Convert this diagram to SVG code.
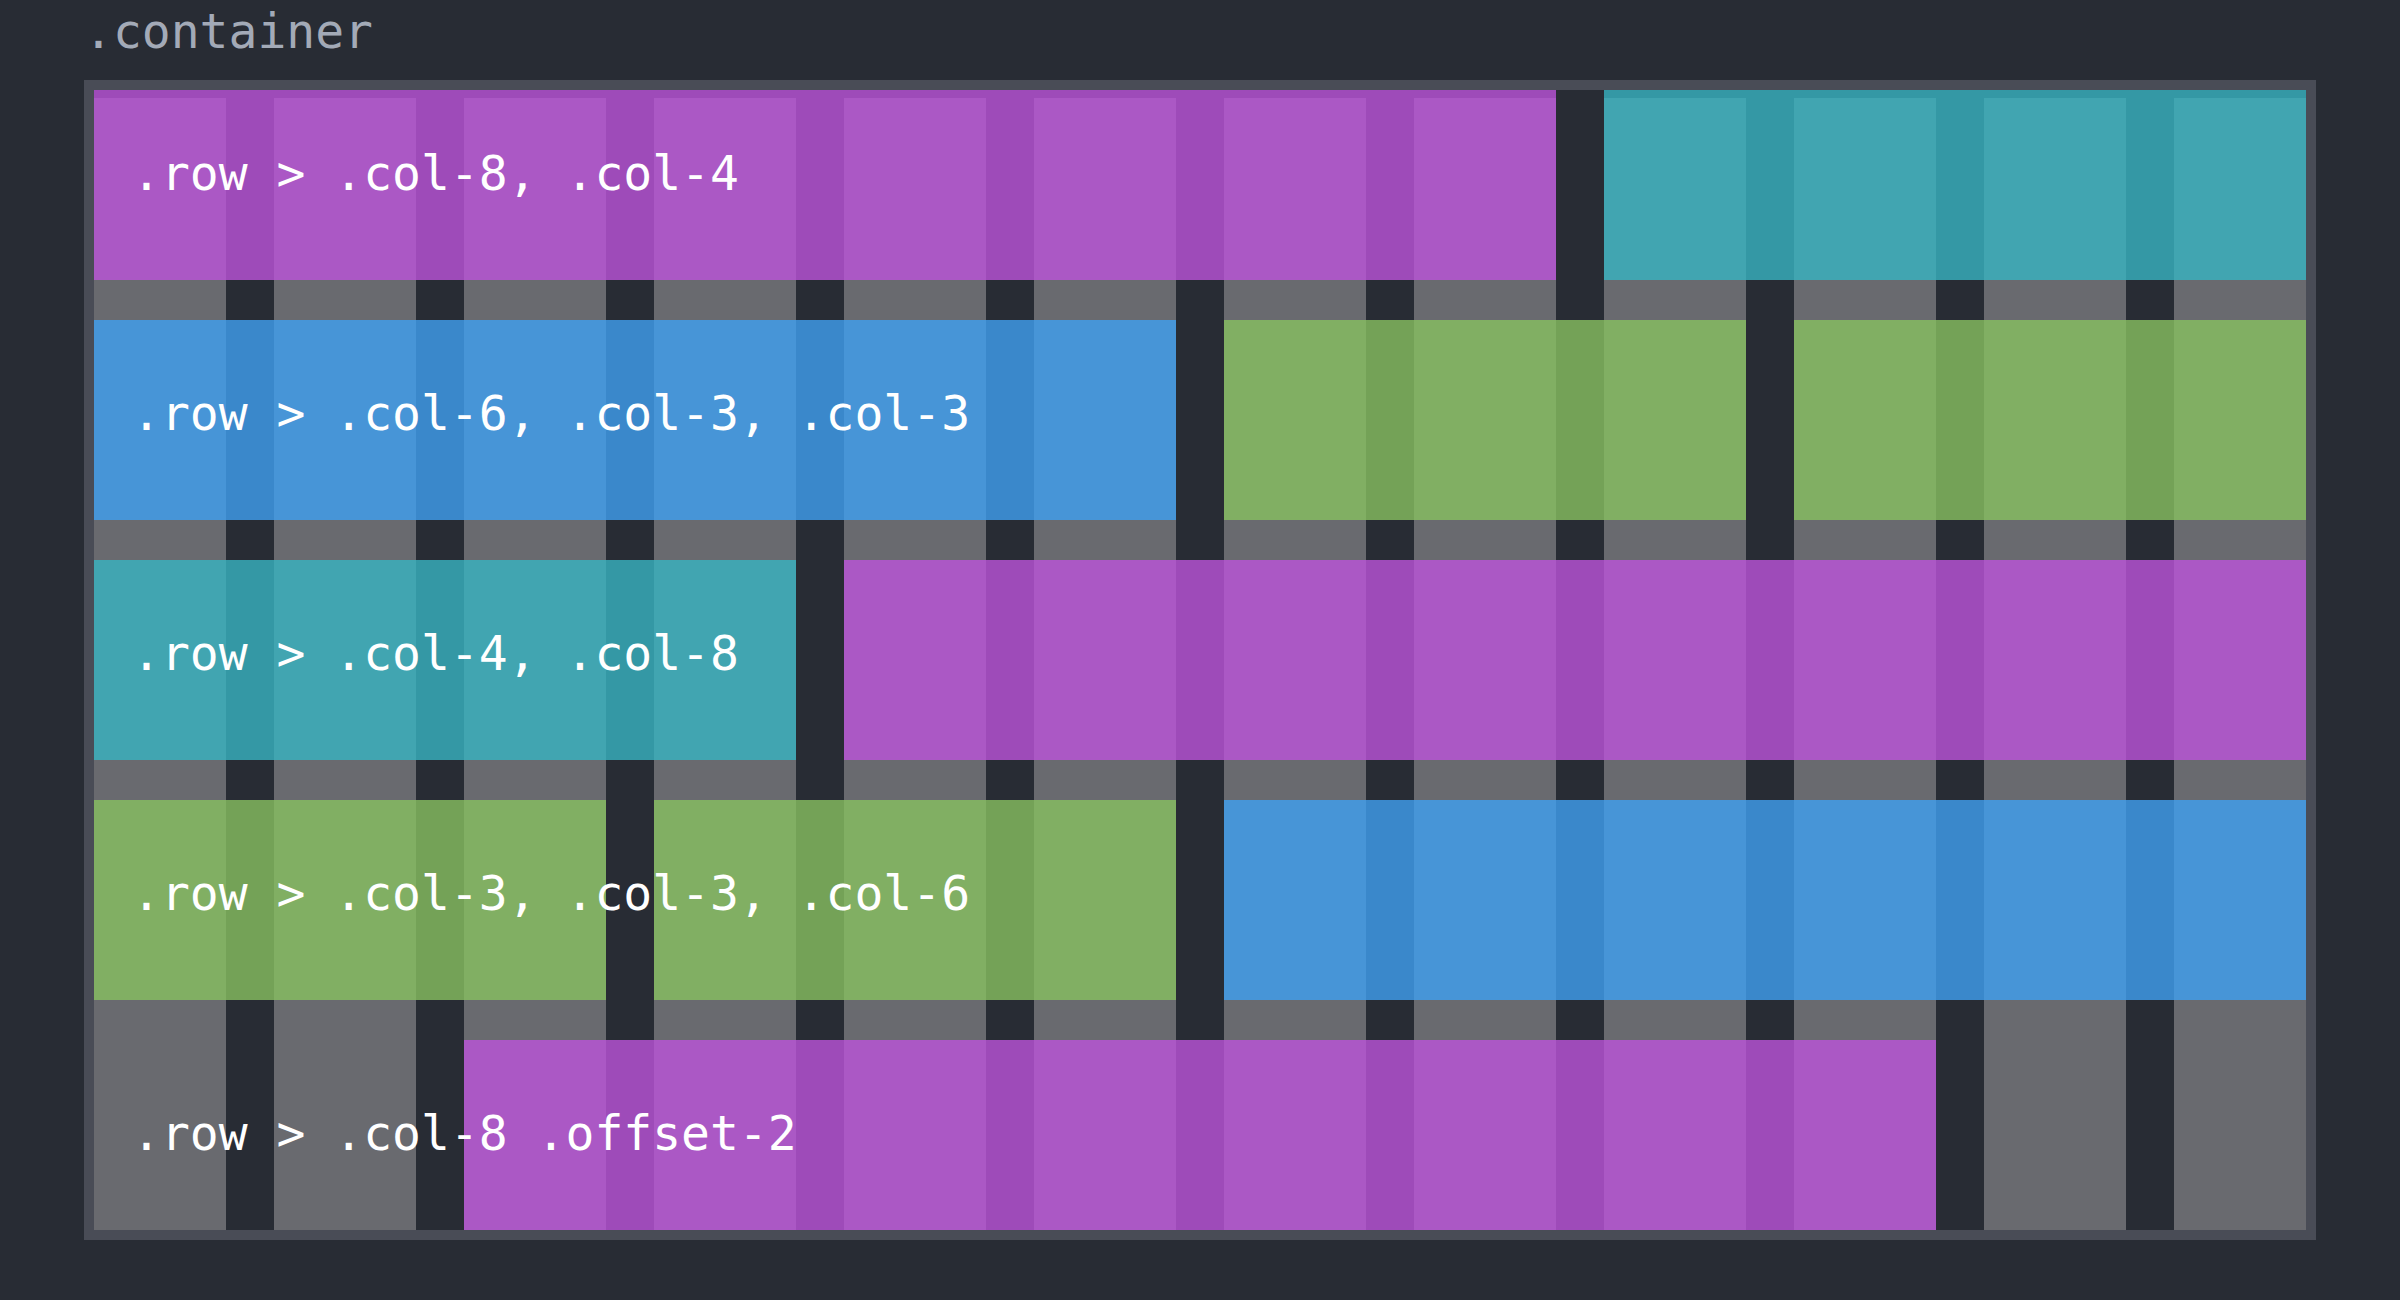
<svg xmlns="http://www.w3.org/2000/svg" width="2400" height="1300" viewBox="0 0 2400 1300">
  <style>
    .col { fill: #696a6f; }
    .cell { opacity: 0.8; }
    .purple { fill: #bb54db; }
    .teal { fill: #37b4c2; }
    .green { fill: #87c160; }
    .blue { fill: #3fa0f1; }
    .label { font-family: "DejaVu Sans Mono", "Liberation Mono", monospace; font-size: 48px; fill: #ffffff; }
    .title { font-family: "DejaVu Sans Mono", "Liberation Mono", monospace; font-size: 48px; fill: #a3aab7; }
  </style>
  <rect x="0" y="0" width="2400" height="1300" fill="#282c34"/>
  <text class="title" x="84" y="48">.container</text>

  <g id="grid-columns">
    <rect class="col" x="84" y="98" width="142" height="1142"/>
    <rect class="col" x="274" y="98" width="142" height="1142"/>
    <rect class="col" x="464" y="98" width="142" height="1142"/>
    <rect class="col" x="654" y="98" width="142" height="1142"/>
    <rect class="col" x="844" y="98" width="142" height="1142"/>
    <rect class="col" x="1034" y="98" width="142" height="1142"/>
    <rect class="col" x="1224" y="98" width="142" height="1142"/>
    <rect class="col" x="1414" y="98" width="142" height="1142"/>
    <rect class="col" x="1604" y="98" width="142" height="1142"/>
    <rect class="col" x="1794" y="98" width="142" height="1142"/>
    <rect class="col" x="1984" y="98" width="142" height="1142"/>
    <rect class="col" x="2174" y="98" width="142" height="1142"/>
  </g>

  <g id="row1">
    <g id="row1-col8"><rect class="cell purple" x="84" y="80" width="1472" height="200"/></g>
    <g id="row1-col4"><rect class="cell teal" x="1604" y="80" width="712" height="200"/></g>
    <text class="label" x="132" y="190">.row &gt; .col-8, .col-4</text>
  </g>
  <g id="row2">
    <g id="row2-col6"><rect class="cell blue" x="84" y="320" width="1092" height="200"/></g>
    <g id="row2-col3a"><rect class="cell green" x="1224" y="320" width="522" height="200"/></g>
    <g id="row2-col3b"><rect class="cell green" x="1794" y="320" width="522" height="200"/></g>
    <text class="label" x="132" y="430">.row &gt; .col-6, .col-3, .col-3</text>
  </g>
  <g id="row3">
    <g id="row3-col4"><rect class="cell teal" x="84" y="560" width="712" height="200"/></g>
    <g id="row3-col8"><rect class="cell purple" x="844" y="560" width="1472" height="200"/></g>
    <text class="label" x="132" y="670">.row &gt; .col-4, .col-8</text>
  </g>
  <g id="row4">
    <g id="row4-col3a"><rect class="cell green" x="84" y="800" width="522" height="200"/></g>
    <g id="row4-col3b"><rect class="cell green" x="654" y="800" width="522" height="200"/></g>
    <g id="row4-col6"><rect class="cell blue" x="1224" y="800" width="1092" height="200"/></g>
    <text class="label" x="132" y="910">.row &gt; .col-3, .col-3, .col-6</text>
  </g>
  <g id="row5">
    <g id="row5-col8-offset2"><rect class="cell purple" x="464" y="1040" width="1472" height="200"/></g>
    <text class="label" x="132" y="1150">.row &gt; .col-8 .offset-2</text>
  </g>

  <g id="connectors"></g>

  <rect id="container-border" x="89" y="85" width="2222" height="1150" fill="none" stroke="#494c56" stroke-width="10"/>
</svg>
